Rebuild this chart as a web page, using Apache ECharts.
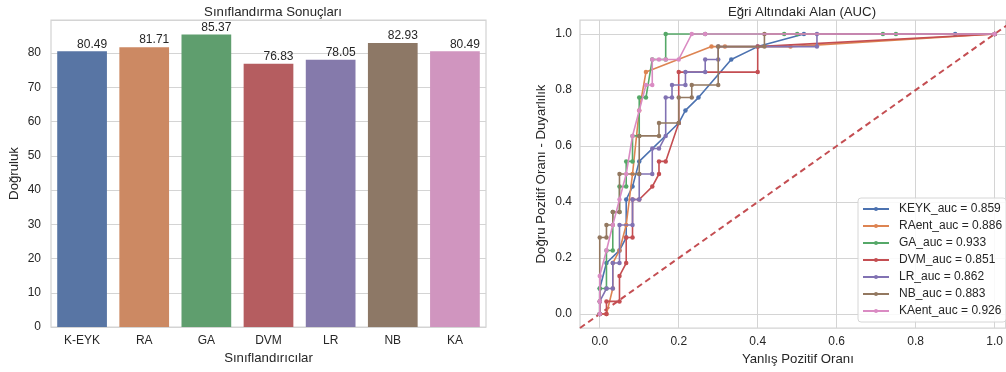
<!DOCTYPE html>
<html>
<head>
<meta charset="utf-8">
<script src="https://cdn.jsdelivr.net/npm/echarts@6/dist/echarts.min.js"></script>
<style>
html,body{margin:0;padding:0;background:#fff}
#main{width:1006px;height:372px}
</style>
</head>
<body>
<div id="main"></div>
<script>
// bar chart data
var categories = ['K-EYK', 'RA', 'GA', 'DVM', 'LR', 'NB', 'KA'];
var accuracy = [80.49, 81.71, 85.37, 76.83, 78.05, 82.93, 80.49];
var barColors = ['#5875a4', '#cc8963', '#5f9e6e', '#b55d60', '#857aab', '#8d7866', '#d095bf'];

// roc curves (fpr / tpr)
var rocNames = ['KEYK_auc = 0.859', 'RAent_auc = 0.886', 'GA_auc = 0.933', 'DVM_auc = 0.851',
                'LR_auc = 0.862', 'NB_auc = 0.883', 'KAent_auc = 0.926'];
var lineColors = ['#4c72b0', '#dd8452', '#55a868', '#c44e52', '#8172b3', '#937860', '#da8bc3'];

var keykFpr = [0, 0, 0.017, 0.05, 0.067, 0.067, 0.083, 0.1, 0.2, 0.217, 0.25, 0.333, 0.4, 0.517, 0.9, 1];
var keykTpr = [0, 0.091, 0.182, 0.227, 0.273, 0.409, 0.455, 0.545, 0.682, 0.727, 0.773, 0.909, 0.955, 1, 1, 1];

var raFpr = [0, 0.017, 0.033, 0.033, 0.05, 0.067, 0.083, 0.1, 0.117, 0.283, 0.317, 0.483, 1];
var raTpr = [0, 0, 0.091, 0.182, 0.227, 0.318, 0.5, 0.727, 0.864, 0.955, 0.955, 0.955, 1];

var gaFpr = [0, 0, 0.017, 0.017, 0.033, 0.033, 0.05, 0.05, 0.067, 0.067, 0.083, 0.083, 0.1, 0.1, 0.117, 0.133, 0.167, 0.167, 0.267, 0.467, 0.5, 0.717, 0.75, 1];
var gaTpr = [0, 0.091, 0.091, 0.227, 0.227, 0.364, 0.364, 0.455, 0.455, 0.545, 0.545, 0.636, 0.636, 0.773, 0.773, 0.909, 0.909, 1, 1, 1, 1, 1, 1, 1];

var dvmFpr = [0, 0.017, 0.017, 0.05, 0.05, 0.067, 0.067, 0.083, 0.083, 0.1, 0.133, 0.15, 0.15, 0.167, 0.2, 0.2, 0.4, 0.4, 1];
var dvmTpr = [0, 0, 0.045, 0.045, 0.136, 0.182, 0.273, 0.273, 0.409, 0.409, 0.455, 0.5, 0.545, 0.545, 0.682, 0.864, 0.864, 0.955, 1];

var lrFpr = [0, 0, 0.017, 0.033, 0.033, 0.05, 0.05, 0.083, 0.083, 0.1, 0.1, 0.133, 0.133, 0.15, 0.167, 0.167, 0.183, 0.183, 0.217, 0.217, 0.267, 0.267, 0.3, 0.3, 0.55, 0.55, 1];
var lrTpr = [0, 0.045, 0.091, 0.091, 0.182, 0.182, 0.318, 0.318, 0.409, 0.409, 0.5, 0.5, 0.591, 0.591, 0.636, 0.773, 0.773, 0.818, 0.818, 0.864, 0.864, 0.909, 0.909, 0.955, 0.955, 1, 1];

var nbFpr = [0, 0, 0, 0.017, 0.017, 0.033, 0.033, 0.05, 0.05, 0.1, 0.1, 0.15, 0.15, 0.2, 0.2, 0.233, 0.233, 0.3, 0.3, 0.417, 0.417, 1];
var nbTpr = [0, 0.045, 0.273, 0.273, 0.318, 0.318, 0.364, 0.364, 0.5, 0.5, 0.636, 0.636, 0.682, 0.682, 0.773, 0.773, 0.818, 0.818, 0.955, 0.955, 1, 1];

var kaFpr = [0, 0, 0, 0.017, 0.033, 0.05, 0.067, 0.083, 0.1, 0.117, 0.133, 0.133, 0.15, 0.167, 0.2, 0.233, 0.267, 1];
var kaTpr = [0, 0.045, 0.136, 0.227, 0.318, 0.409, 0.5, 0.636, 0.727, 0.818, 0.818, 0.909, 0.909, 0.909, 0.909, 1, 1, 1];

var diagonal = [-0.05, 1.05];
var ratioTicks = [0, 0.2, 0.4, 0.6, 0.8, 1.0];

var rocFpr = [keykFpr, raFpr, gaFpr, dvmFpr, lrFpr, nbFpr, kaFpr];
var rocTpr = [keykTpr, raTpr, gaTpr, dvmTpr, lrTpr, nbTpr, kaTpr];

var txt = '#262626';
var gridCol = '#d4d4d4';
var font = 'Liberation Sans, Arial, sans-serif';

function mainChart(){
	var chart = echarts.init(document.querySelector('#main'))

	var barData = accuracy.map(function (v, i) {
		return { value: v, itemStyle: { color: barColors[i] } }
	})

	var series = [
		{
			name: 'Doğruluk',
			type: 'bar',
			xAxisIndex: 0,
			yAxisIndex: 0,
			barCategoryGap: '20%',
			data: barData,
			label: {
				show: true,
				position: 'top',
				distance: 1,
				offset: [10, 0],
				color: txt,
				fontSize: 12,
				fontFamily: font,
				formatter: function (p) { return p.value.toFixed(2) }
			}
		},
		{
			// diagonal reference line
			type: 'line',
			xAxisIndex: 1,
			yAxisIndex: 1,
			data: [[diagonal[0], diagonal[0]], [diagonal[1], diagonal[1]]],
			symbol: 'none',
			silent: true,
			z: 1,
			lineStyle: { color: '#c44e52', width: 2, type: [6, 4] }
		}
	]

	rocNames.forEach(function (n, k) {
		series.push({
			name: n,
			type: 'line',
			xAxisIndex: 1,
			yAxisIndex: 1,
			data: rocFpr[k].map(function (x, i) { return [x, rocTpr[k][i]] }),
			symbol: 'circle',
			symbolSize: 4.5,
			z: 2 + k,
			color: lineColors[k],
			lineStyle: { width: 1.6 }
		})
	})

	var option = {
		animation: false,
		textStyle: { fontFamily: font, color: txt },
		title: [
			{ text: 'Sınıflandırma Sonuçları', left: 268, top: 1, textAlign: 'center',
			  textStyle: { fontSize: 13.2, fontWeight: 'normal', color: txt, fontFamily: font } },
			{ text: 'Eğri Altındaki Alan (AUC)', left: 797, top: 1, textAlign: 'center',
			  textStyle: { fontSize: 13.2, fontWeight: 'normal', color: txt, fontFamily: font } }
		],
		legend: {
			data: rocNames,
			orient: 'vertical',
			left: 858,
			top: 198,
			padding: [5, 4, 5, 4],
			itemWidth: 26,
			itemHeight: 5,
			itemGap: 5,
			borderColor: '#d6d6d6',
			borderWidth: 1,
			borderRadius: 3,
			backgroundColor: 'rgba(255,255,255,0.85)',
			textStyle: { fontSize: 12, lineHeight: 12, color: txt, fontFamily: font, padding: [0, 0, 0, 5] }
		},
		grid: [
			{ left: 51, top: 20, width: 435, height: 307, show: true, borderColor: gridCol, borderWidth: 1.25 },
			{ left: 580, top: 20, right: 0, height: 308, show: true, borderColor: gridCol, borderWidth: 1.25 }
		],
		xAxis: [
			{
				type: 'category',
				gridIndex: 0,
				data: categories,
				name: 'Sınıflandırıcılar',
				nameLocation: 'middle',
				nameGap: 25,
				nameTextStyle: { fontSize: 13.2, color: txt },
				axisLine: { show: false },
				axisTick: { show: false },
				axisLabel: { fontSize: 12, color: txt, margin: 8 }
			},
			{
				type: 'value',
				gridIndex: 1,
				min: -0.05,
				max: 1.028,
				name: 'Yanlış Pozitif Oranı',
				nameLocation: 'middle',
				nameGap: 25,
				nameTextStyle: { fontSize: 13.2, color: txt, padding: [0, 0, 0, 10] },
				axisLine: { show: false },
				axisTick: { show: false, customValues: ratioTicks },
				axisLabel: { fontSize: 12, color: txt, margin: 8, customValues: ratioTicks,
				             formatter: function (v) { return v.toFixed(1) } },
				splitLine: { show: true, lineStyle: { color: gridCol, width: 1 } }
			}
		],
		yAxis: [
			{
				type: 'value',
				gridIndex: 0,
				min: 0,
				max: 89.64,
				interval: 10,
				name: 'Doğruluk',
				nameLocation: 'middle',
				nameGap: 30,
				nameTextStyle: { fontSize: 13.2, color: txt },
				axisLine: { show: false },
				axisTick: { show: false },
				axisLabel: { fontSize: 12, color: txt, margin: 10, showMaxLabel: false },
				splitLine: { show: true, lineStyle: { color: gridCol, width: 1 } }
			},
			{
				type: 'value',
				gridIndex: 1,
				min: -0.05,
				max: 1.05,
				name: 'Doğru Pozitif Oranı - Duyarlılık',
				nameLocation: 'middle',
				nameGap: 32,
				nameTextStyle: { fontSize: 13.2, color: txt },
				axisLine: { show: false },
				axisTick: { show: false, customValues: ratioTicks },
				axisLabel: { fontSize: 12, color: txt, margin: 8, customValues: ratioTicks,
				             formatter: function (v) { return v.toFixed(1) } },
				splitLine: { show: true, lineStyle: { color: gridCol, width: 1 } }
			}
		],
		series: series
	};

	chart.setOption(option)
}

mainChart()
</script>
</body>
</html>
